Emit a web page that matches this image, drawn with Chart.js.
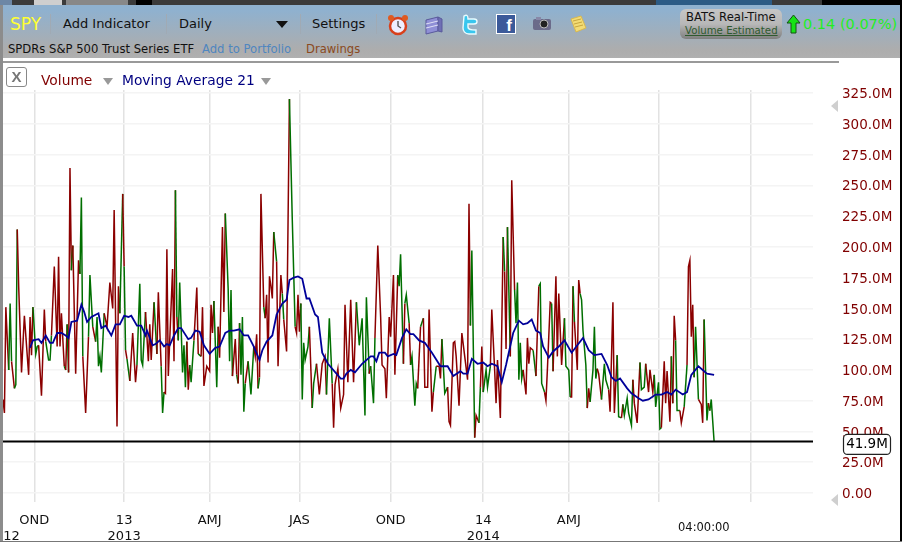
<!DOCTYPE html>
<html>
<head>
<meta charset="utf-8">
<title>SPY Volume</title>
<script src="https://cdn.jsdelivr.net/npm/chart.js@4"></script>
<style>
    html, body { margin: 0; padding: 0; background: #fff; overflow: hidden; }
    #page { position: relative; width: 902px; height: 542px; overflow: hidden; font-family: "DejaVu Sans", sans-serif; background: #fff; }
    #page canvas { position: absolute; left: 0; top: 0; }
    .abs { position: absolute; white-space: nowrap; }
    #toolbar { position: absolute; left: 0; top: 5px; width: 902px; height: 53px; background: linear-gradient(#8fb1cf, #8fb1cf 10%, #adadad 85%, #b0b0b0); }
    .sep { position: absolute; top: 14px; width: 1px; height: 20px; background: #a0aab4; }
    .tool { font-size: 13px; color: #111; }
    .sub { font-size: 11.6px; color: #111; }
    .tri { position: absolute; width: 0; height: 0; border-left: 6px solid transparent; border-right: 6px solid transparent; border-top: 7px solid #999; }
    .mark { position: absolute; width: 0; height: 0; border-top: 6px solid transparent; border-bottom: 6px solid transparent; border-right: 7px solid #cfcfcf; }
</style>
</head>
<body>
<div id="page">
    <canvas id="volumeChart" width="902" height="542"></canvas>

    <!-- tab strip at the very top -->
    <div class="abs" style="left:0;top:0;width:902px;height:5px;background:#3b3b3b"></div>
    <div class="abs" style="left:0;top:0;width:12px;height:5px;background:#6d87a5"></div>
    <div class="abs" style="left:34px;top:0;width:28px;height:5px;background:#cfcfcf"></div>
    <div class="abs" style="left:66px;top:0;width:62px;height:5px;background:#888"></div>
    <div class="abs" style="left:136px;top:0;width:16px;height:5px;background:#000"></div>
    <div class="abs" style="left:656px;top:0;width:116px;height:5px;background:#2c5b85"></div>
    <div class="abs" style="left:822px;top:0;width:80px;height:5px;background:#000"></div>

    <div id="toolbar"></div>
    <div class="abs" style="left:10px;top:14px;font-size:17px;color:#ffff33">SPY</div>
    <div class="sep" style="left:50px"></div>
    <div class="abs tool" style="left:63px;top:16px">Add Indicator</div>
    <div class="sep" style="left:166px"></div>
    <div class="abs tool" style="left:179px;top:16px">Daily</div>
    <div class="tri" style="left:276px;top:21px;border-top-color:#111"></div>
    <div class="sep" style="left:300px"></div>
    <div class="abs tool" style="left:312px;top:16px">Settings</div>
    <div class="sep" style="left:376px"></div>
    <div class="abs sub" style="left:8px;top:42px">SPDRs S&amp;P 500 Trust Series ETF</div>
    <div class="abs sub" style="left:202px;top:42px;color:#4f86c0">Add to Portfolio</div>
    <div class="abs sub" style="left:306px;top:42px;color:#8a4a22">Drawings</div>

    <!-- toolbar icons -->
    <svg class="abs" style="left:386px;top:13px" width="24" height="24" viewBox="0 0 24 24">
        <circle cx="12" cy="13" r="8" fill="#eef" stroke="#d8401c" stroke-width="2.5"/>
        <circle cx="5" cy="5" r="3" fill="#e05a20"/><circle cx="19" cy="5" r="3" fill="#e05a20"/>
        <path d="M12 8v5l3 2" stroke="#555" stroke-width="1.4" fill="none"/>
    </svg>
    <svg class="abs" style="left:423px;top:14px" width="22" height="22" viewBox="0 0 22 22">
        <path d="M3 6l12-3v14l-12 3z" fill="#8f8fd6" stroke="#5a5a9c"/>
        <path d="M15 3l4 2v13l-4-1z" fill="#6f6fb5" stroke="#5a5a9c"/>
        <path d="M3 10l12-3M3 14l12-3" stroke="#dfe0f5" fill="none"/>
    </svg>
    <svg class="abs" style="left:460px;top:13px" width="20" height="24" viewBox="0 0 20 24">
        <path d="M4 3c3-2 4 0 4 3h6c4 0 4 5 0 5H8v3c0 3 4 3 8 3v4H9c-4 0-6-3-6-6z" fill="#39c6ee" stroke="#e8fbff" stroke-width="1.4"/>
    </svg>
    <div class="abs" style="left:496px;top:14px;width:18px;height:18px;background:#3b5a9a;border:1px solid #fff;color:#fff;font:bold 17px 'Liberation Sans',sans-serif;text-align:right;line-height:21px;overflow:hidden"><span style="margin-right:3px">f</span></div>
    <svg class="abs" style="left:532px;top:15px" width="20" height="18" viewBox="0 0 20 18">
        <rect x="1" y="4" width="18" height="11" rx="2" fill="#6b6b8a"/>
        <circle cx="12" cy="9" r="4" fill="#222" stroke="#bbb"/>
        <rect x="4" y="2" width="5" height="3" fill="#8888a8"/>
    </svg>
    <svg class="abs" style="left:569px;top:15px" width="18" height="18" viewBox="0 0 18 18">
        <path d="M2 4l10-3 5 12-10 4z" fill="#f3dc74" stroke="#d8b850"/>
        <path d="M4 6l8-2M5 9l8-2M6 12l8-2" stroke="#c7a63e" fill="none"/>
    </svg>

    <!-- feed badge and price change -->
    <div class="abs" style="left:680px;top:9px;width:102px;height:30px;border-radius:6px;background:linear-gradient(#c6c6c6,#b8b8b8 50%,#7f7f7f)"></div>
    <div class="abs" style="left:686px;top:10px;font-size:11.6px;color:#111">BATS Real-Time</div>
    <div class="abs" style="left:685px;top:25px;font-size:10.2px;color:#2f5a2f;text-decoration:underline">Volume Estimated</div>
    <svg class="abs" style="left:786px;top:14px" width="15" height="20" viewBox="0 0 15 20">
        <path d="M7.5 1L14 9H10V19H5V9H1z" fill="#16e316" stroke="#145214"/>
    </svg>
    <div class="abs" style="left:803px;top:16px;font-size:14.5px;color:#22ee22">0.14 (0.07%)</div>

    <!-- separator rule and indicator legend -->
    <div class="abs" style="left:3px;top:61px;width:836px;height:2px;background:#999"></div>
    <div class="abs" style="left:6px;top:67px;width:19px;height:18px;border:1.5px solid #888;border-radius:3px;color:#777;font:bold 15px 'Liberation Sans',sans-serif;text-align:center;line-height:18px;background:#fff">X</div>
    <div class="abs" style="left:41px;top:72px;font-size:13.8px;color:#800000">Volume</div>
    <div class="tri" style="left:103px;top:78px;border-left-width:5px;border-right-width:5px;border-top-color:#999"></div>
    <div class="abs" style="left:122px;top:72px;font-size:13.8px;color:#000080">Moving Average 21</div>
    <div class="tri" style="left:261px;top:78px;border-left-width:5px;border-right-width:5px;border-top-color:#999"></div>

    <div class="mark" style="left:831px;top:100px"></div>
    <div class="mark" style="left:831px;top:494px"></div>
    <div class="abs" style="left:678px;top:520px;font-size:11.5px;color:#111">04:00:00</div>

    <!-- window edges -->
    <div class="abs" style="left:0;top:5px;width:3px;height:537px;background:#8c8c8c"></div>
    <div class="abs" style="left:900px;top:5px;width:2px;height:537px;background:#000"></div>
    <div class="abs" style="left:0;top:541px;width:902px;height:1px;background:#777"></div>
</div>

<script>
// trading session number, counted from the left edge of the chart
const volDays = [
    0,1,2,4,5,6,8,9,10,11, 13,15,18,19,20,21,23,24,25,27, 29,30,32,33,34,36,38,39,40,41,
    43,44,45,46,47,48,49,51,53,54, 55,56,58,60,61,63,65,66,67,68, 69,71,73,75,77,78,80,81,82,84,
    85,86,87,89,91,93,94,96,97,98, 100,102,103,104,106,108,109,111,112,113, 114,115,116,119,120,121,122,123,124,126,
    127,128,129,130,131,132,134,136,137,139, 140,141,143,145,146,147,148,150,151,152, 154,155,156,158,159,
    160,161,163,164,165,166,167,168,169,170, 172,174,176,177,178,179,180,181,183,184, 185,186,187,188,189,190,192,193,195,196,
    197,199,201,203,205,206,207,208,209,210, 211,212,214,215,217,218,220,222,224,226, 227,229,231,232,233,235,237,239,240,242,
    244,246,248,250,252,254,255,257,258,260, 261,263,265,266,268,269,271,272,274,275, 277,278,279,281,282,283,285,286,287,289,
    290,291,293,295,296,298,299,301,302,304, 306,307,308,310,312,313,314,316,317,318, 320,
    322,324,326,327,328,329,331,332,334,335, 336,337,339,340,342,343,345,346,347,349, 351,352,353,354,356,357,359,360,361,362,
    363,364,365,367,368,369,370,372,374,376, 377,378,380,381,382,384,385,386,388,389, 390,392,394,395,397,398,399,400,401,403,
    404,405,406,407,409,410,411,412,414,415, 416,417,418,420,422,423,425,426,428,429, 431,432,434,435,436,438,439,441,442,443,
    445,447,448,450,451,453,454,456,457,458, 460,461,462,464,465,466,468,469,470,471, 472,473,475,476,478,480,481,482,483,484,
    485,486,488,490,491,492,494,495,496,497, 499
];
// volume in millions of shares
const volValues = [
    76,65,151,100,154,107,85,88,214,168, 98,144,96,143,112,151,113,119,120,79, 149,123,108,108,128,184,119,192,119,146,
    103,100,137,98,264,181,201,97,189,178, 240,111,65,127,177,135,123,143,103,111, 98,146,135,171,150,230,54,168,146,243,
    184,116,109,91,130,90,104,170,108,104, 147,107,137,108,155,113,163,103,65,82, 81,198,95,182,107,246,143,124,171,98,
    120,86,123,84,104,90,124,167,113,111, 151,87,103,99,153,130,156,86,135,110, 216,147,227,166,107,
    165,95,125,96,89,138,96,143,66,89, 107,80,119,111,129,85,94,243,151,142, 161,106,176,168,158,212,188,103,177,162,
    141,115,320,222,135,130,161,131,154,76, 122,108,119,135,69,89,105,80,105,111, 80,142,89,53,88,101,69,80,153,90,
    157,90,155,120,142,63,159,97,103,73, 126,201,143,104,101,77,143,127,177,96, 177,168,194,105,154,161,138,104,111,71,
    89,85,135,142,86,86,149,66,82,103, 103,93,125,81,86,58,55,122,123,111, 71,
    130,111,92,235,136,197,45,63,57,86, 119,82,100,86,103,149,100,73,108,61, 208,180,117,216,111,254,165,138,171,92,
    122,93,100,80,126,105,118,116,95,168, 170,89,82,75,100,155,154,99,176,111, 162,104,142,103,100,78,78,168,139,100,
    173,162,157,132,104,69,85,74,100,135, 93,101,97,76,105,92,84,66,155,65, 112,62,61,72,63,77,65,55,92,73,
    57,106,84,86,105,82,100,82,96,70, 90,52,53,107,73,99,58,111,73,144, 124,67,67,57,70,104,184,189,127,153,
    94,135,76,72,57,141,59,73,67,76, 41.9
];
// G = session closed up, R = closed down
const volUp = [
    'GRRRGGRGGR','RRRRRRGGGR','RRGGGRRRRR','RGRGRRGRRR','GGRRGGRGGG','GGRRRRRRRG',
    'RGRGRRRGGG','GRRRRGRRGG','RRRRRRGRGG','GGGRRGGRRG','RRRRRRRGGR','RRRGG',
    'GGRRGRGGGG','RGGRRRGRRG','RRRRRRGRRR','GRRGGRRRRG','GGGGRGGRRR','RGGRRRRRRR',
    'RRRGGGGGRG','GRRRRRRRRR','RGGGRGGRGG','GGRGRRRRRG','RRRGGRRRRR','R',
    'RRRRRGGRRG','RRGGGRRRRR','RGRRGRRGGG','GGGRRRRRGR','GGGRRRRGRR','RRRGGGRRGR',
    'RRGGGGRRGG','GGRRGGGRRR','RGGRGGGGGR','RRGGGRRRRG','GGGRRRRRGR','RGGRRGRRRR',
    'RGGRRRGGRG','G'
].join('');

// 21 day moving average of volume, in millions
const maDays = [
    19,21,25,27,30,33,35,38,41,44,46,48,52,55,57,59,62,67,69,72,76,79,82,85,88,90,94,97,100,101,105,107,110,113,115,117,120,123,125,130,132,135,138,141,145,149,152,156,159,
    162,166,169,172,176,180,182,185,189,192,196,199,201,204,207,210,213,215,219,221,224,228,237,239,241,244,247,252,258,260,262,264,268,270,274,276,280,283,286,288,292,296,301,307,312,316,321,
    323,326,329,333,337,340,343,347,350,353,358,362,365,368,371,374,377,379,383,386,390,394,399,403,407,411,415,420,424,427,430,433,438,441,446,449,453,458,462,466,469,472,477,480,483,488,494,499
];
const maValues = [
    118,124,125,122,128,122,122,130,130,128,126,139,140,153,147,139,143,146,134,136,128,137,137,144,143,144,136,136,128,132,120,121,124,119,121,120,128,134,134,125,126,132,131,120,113,118,119,130,132,
    132,133,128,128,119,108,116,123,128,145,154,157,173,175,176,174,158,158,145,143,114,105,93,93,97,100,98,105,111,111,107,114,114,111,113,112,126,133,129,129,124,122,114,103,103,95,99,
    97,97,109,105,106,103,105,103,90,104,130,140,137,138,141,132,130,119,110,115,119,124,114,120,126,116,112,113,104,94,91,93,85,81,77,75,76,80,80,82,80,84,80,82,96,103,97,96
];

const lastVolume = 41.9;

// axis ticks
const yTicks = [0,25,50,75,100,125,150,175,200,225,250,275,300,325];
const xTickDays = [6,22,85,145,208,272,337,397,460,525];
const xTickLabels = [
    ['', '12'], ['OND', ''], ['13', '2013'], ['AMJ', ''], ['JAS', ''],
    ['OND', ''], ['14', '2014'], ['AMJ', ''], ['', ''], ['', '']
];

const red = '#8b0000';
const green = '#006f00';
const navy = '#000099';

function formatVolume(v) {
    return v === 0 ? '0.00' : v.toFixed(1) + 'M';
}

// boxed readout of the latest volume, on the price scale
const lastValueBox = {
    id: 'lastValueBox',
    afterDraw(chart) {
        const ctx = chart.ctx;
        const y = chart.scales.y.getPixelForValue(lastVolume) + 3;
        ctx.save();
        ctx.beginPath();
        ctx.roundRect(843.5, y - 10, 47, 20, 4);
        ctx.fillStyle = '#fff';
        ctx.fill();
        ctx.strokeStyle = '#222';
        ctx.lineWidth = 1.2;
        ctx.stroke();
        ctx.fillStyle = '#000';
        ctx.font = '13.5px "DejaVu Sans"';
        ctx.textAlign = 'center';
        ctx.textBaseline = 'middle';
        ctx.fillText(lastVolume + 'M', 867, y);
        ctx.restore();
    }
};

new Chart(document.getElementById('volumeChart'), {
    type: 'line',
    data: {
        datasets: [
            {
                label: 'Level',
                data: [{ x: 0, y: lastVolume }, { x: 568.4, y: lastVolume }],
                borderColor: '#000',
                borderWidth: 2,
                pointRadius: 0,
                order: 1
            },
            {
                label: 'Moving Average 21',
                data: maDays.map((d, i) => ({ x: d, y: maValues[i] })),
                borderColor: navy,
                borderWidth: 1.8,
                pointRadius: 0,
                order: 2
            },
            {
                label: 'Volume',
                data: volDays.map((d, i) => ({ x: d, y: volValues[i] })),
                borderWidth: 1.5,
                pointRadius: 0,
                borderColor: red,
                segment: {
                    borderColor: c => volUp[c.p1DataIndex] === 'G' ? green : red
                },
                order: 3
            }
        ]
    },
    options: {
        responsive: false,
        animation: false,
        devicePixelRatio: 1,
        layout: { padding: { left: 3, top: 90, right: 0, bottom: 0 } },
        plugins: { legend: { display: false }, tooltip: { enabled: false } },
        scales: {
            x: {
                type: 'linear',
                min: 0,
                max: 568.4,
                border: { display: false },
                grid: {
                    drawTicks: false,
                    lineWidth: 1.5,
                    color: c => (c.tick && c.tick.value === xTickDays[0]) ? 'transparent' : '#e2e2e2'
                },
                afterBuildTicks: scale => { scale.ticks = xTickDays.map(v => ({ value: v })); },
                afterFit: scale => {
                    scale.height = 40;
                    scale.paddingLeft = 0;
                    scale.paddingRight = 0;
                },
                ticks: {
                    autoSkip: false,
                    maxRotation: 0,
                    padding: 10,
                    color: '#111',
                    font: { family: '"DejaVu Sans"', size: 13, lineHeight: 1.25 },
                    callback: (value, i) => xTickLabels[i]
                }
            },
            y: {
                position: 'right',
                min: -7.3,
                max: 327.4,
                border: { display: false },
                grid: { drawTicks: false, color: '#f4f4f4', lineWidth: 1.5 },
                afterBuildTicks: scale => { scale.ticks = yTicks.map(v => ({ value: v })); },
                afterFit: scale => {
                    scale.width = 89;
                    scale.paddingTop = 0;
                    scale.paddingBottom = 0;
                },
                ticks: {
                    padding: 29,
                    color: '#800000',
                    // blank first line + tight line height nudges the labels down to sit on the grid
                    font: { family: '"DejaVu Sans"', size: 13.5, lineHeight: 0.25 },
                    callback: v => ['', formatVolume(v)]
                }
            }
        }
    },
    plugins: [lastValueBox]
});
</script>
</body>
</html>
